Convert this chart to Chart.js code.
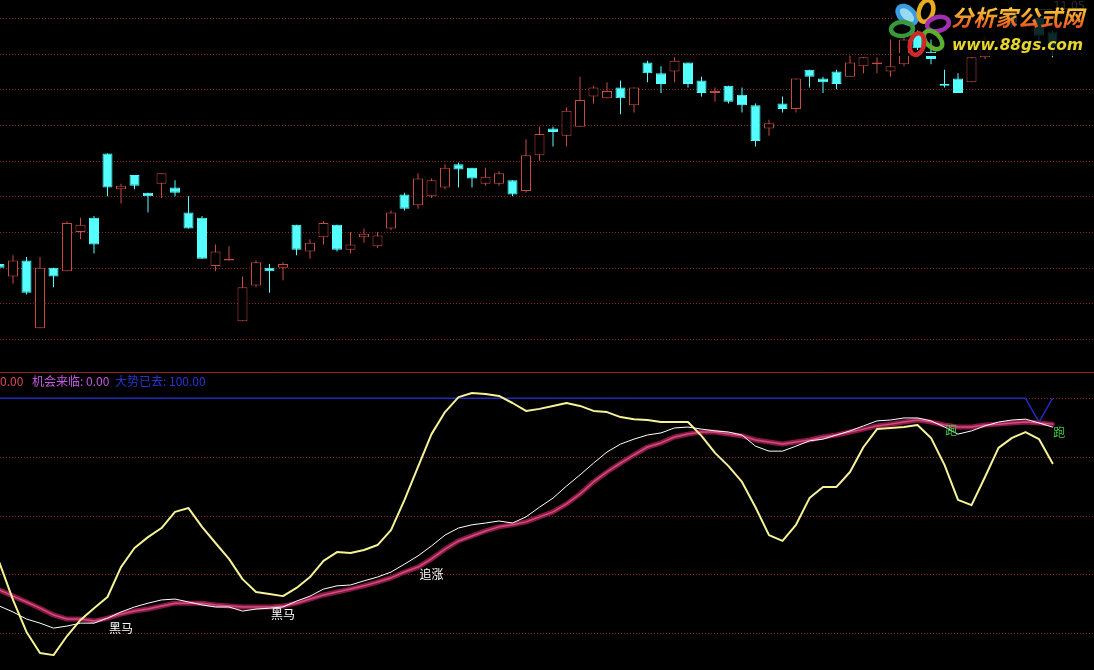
<!DOCTYPE html>
<html>
<head>
<meta charset="utf-8">
<script src="https://cdn.jsdelivr.net/npm/chart.js@4.4.1/dist/chart.umd.min.js"></script>
<style>
  html, body { margin:0; padding:0; background:#000; overflow:hidden; }
  #stage { position:relative; width:1094px; height:670px; background:#000; }
  canvas { position:absolute; left:0; display:block; }
  #kline { top:0; }
  #ind { top:372px; }
</style>
</head>
<body>
<div id="stage">
  <canvas id="kline" width="1094" height="372"></canvas>
  <canvas id="ind" width="1094" height="298"></canvas>
</div>
<script>
// ---------- data ----------
const sessions = [0,1,2,3,4,5,6,7,8,9,10,11,12,13,14,15,16,17,18,19,
  20,21,22,23,24,25,26,27,28,29,30,31,32,33,34,35,36,37,38,39,
  40,41,42,43,44,45,46,47,48,49,50,51,52,53,54,55,56,57,58,59,
  60,61,62,63,64,65,66,67,68,69,70,71,72,73,74,75,76,77,78];

const openP = [9.62,9.55,9.64,9.26,9.60,9.58,9.80,9.88,10.24,10.04,
  10.12,10.02,10.07,10.05,9.91,9.88,9.61,9.64,9.30,9.50,
  9.60,9.60,9.84,9.69,9.77,9.84,9.70,9.77,9.72,9.82,
  10.01,9.95,10.00,10.05,10.18,10.16,10.07,10.07,10.09,10.03,
  10.23,10.38,10.34,10.39,10.56,10.55,10.61,10.51,10.75,10.69,
  10.70,10.75,10.65,10.58,10.62,10.57,10.51,10.38,10.52,10.49,
  10.71,10.66,10.70,10.67,10.73,10.74,10.70,10.74,10.92,10.81,
  10.63,10.66,10.64,10.78,10.87,11.02,10.95,11.00,10.92];
const highP = [9.67,9.67,9.66,9.66,9.60,9.86,9.88,9.89,10.24,10.07,
  10.12,10.02,10.13,10.09,10.00,9.89,9.73,9.72,9.55,9.64,
  9.62,9.63,9.84,9.76,9.86,9.84,9.80,9.82,9.80,9.92,
  10.02,10.13,10.10,10.18,10.19,10.16,10.16,10.14,10.09,10.32,
  10.39,10.39,10.50,10.67,10.62,10.64,10.65,10.61,10.76,10.73,
  10.78,10.75,10.67,10.61,10.62,10.61,10.52,10.43,10.56,10.66,
  10.71,10.67,10.71,10.79,10.78,10.78,10.88,10.90,10.93,10.88,
  10.71,10.69,10.78,10.90,11.00,11.04,11.03,11.05,10.93];
const lowP = [9.56,9.51,9.45,9.26,9.49,9.58,9.76,9.68,10.00,9.96,
  10.04,9.91,9.99,10.00,9.82,9.65,9.58,9.64,9.30,9.49,
  9.46,9.53,9.67,9.65,9.73,9.69,9.68,9.74,9.71,9.81,
  9.92,9.93,9.99,10.04,10.05,10.05,10.06,10.06,10.00,10.02,
  10.20,10.28,10.28,10.39,10.52,10.55,10.46,10.47,10.64,10.58,
  10.64,10.61,10.56,10.53,10.52,10.47,10.28,10.34,10.47,10.47,
  10.61,10.58,10.60,10.67,10.69,10.69,10.67,10.73,10.82,10.74,
  10.61,10.58,10.64,10.77,10.85,10.94,10.93,10.87,10.78];
const closeP = [9.60,9.64,9.46,9.60,9.55,9.85,9.84,9.73,10.05,10.06,
  10.06,10.00,10.13,10.02,9.82,9.65,9.69,9.65,9.49,9.63,
  9.58,9.62,9.70,9.74,9.85,9.70,9.73,9.79,9.78,9.91,
  9.93,10.10,10.09,10.16,10.15,10.10,10.11,10.13,10.01,10.23,
  10.35,10.36,10.48,10.54,10.61,10.59,10.55,10.61,10.69,10.63,
  10.76,10.63,10.58,10.59,10.53,10.51,10.31,10.41,10.49,10.66,
  10.67,10.64,10.63,10.75,10.78,10.75,10.73,10.88,10.83,10.77,
  10.62,10.58,10.78,10.88,10.98,10.96,11.01,10.90,10.84];
const priceGrid = [9.2, 9.4, 9.6, 9.8, 10.0, 10.2, 10.4, 10.6, 10.8, 11.0];

// indicator panel
const fastLine = [43.9,31.3,20.4,13.2,12.5,19.0,24.5,28.5,32.3,42.5,
  49.0,52.7,55.8,61.3,62.6,56.2,50.7,45.3,38.4,34.0,
  33.3,32.6,35.4,39.1,44.6,47.6,47.3,48.3,50.0,55.1,
  65.4,76.6,87.8,95.3,100.4,101.8,101.5,100.8,98.4,95.7,
  96.4,97.4,98.4,97.4,95.7,95.3,93.6,92.9,92.6,91.9,
  91.9,91.9,87.2,81.4,76.9,71.5,62.9,53.4,51.4,56.9,
  66.0,69.8,69.8,74.9,83.4,89.5,89.9,90.2,90.9,86.5,
  77.3,65.4,63.6,73.2,83.1,86.5,88.5,86.1,77.9];
const midLine = [29.2,27.2,24.8,23.4,21.7,22.4,23.4,23.4,25.1,27.2,
  28.9,30.2,31.3,31.6,30.6,29.6,28.9,28.9,27.5,28.2,
  28.5,28.9,30.9,32.6,35.0,36.1,36.4,37.8,39.1,40.8,
  43.5,46.3,49.7,53.4,55.8,56.9,57.5,58.2,57.5,59.6,
  62.9,66.0,70.1,73.9,77.9,81.7,84.4,86.1,87.5,88.2,
  89.9,90.2,89.5,88.9,88.5,87.5,83.7,82.0,82.0,83.7,
  85.5,86.1,87.5,88.9,90.6,92.3,92.6,93.3,93.3,92.3,
  90.2,87.8,88.9,90.6,91.9,92.6,92.9,91.6,90.2];
const slowLine = [34.7,32.6,30.6,28.5,26.2,24.8,24.8,24.1,25.1,26.5,
  27.5,28.2,29.2,30.2,30.2,30.2,29.6,29.2,28.9,28.9,
  28.9,29.2,30.2,31.6,33.0,34.0,35.0,36.1,37.4,38.8,
  40.8,42.5,45.3,48.6,51.4,53.1,54.8,56.2,56.9,57.9,
  59.6,61.3,64.0,67.4,71.5,74.9,77.9,80.7,83.4,84.8,
  86.8,87.8,88.5,88.5,87.8,87.2,85.8,85.1,84.4,85.1,
  85.8,86.8,87.5,88.5,89.5,90.6,91.2,91.9,92.6,91.9,
  90.9,90.2,90.2,90.9,91.2,91.6,91.9,91.6,91.2];
const trendGone = [100,100,100,100,100,100,100,100,100,100,
  100,100,100,100,100,100,100,100,100,100,
  100,100,100,100,100,100,100,100,100,100,
  100,100,100,100,100,100,100,100,100,100,
  100,100,100,100,100,100,100,100,100,100,
  100,100,100,100,100,100,100,100,100,100,
  100,100,100,100,100,100,100,100,100,100,
  100,100,100,100,100,100,100,91.9,100];
const chanceValue = [0];
const firstValue = [0];
const indGrid = [20, 40, 60, 80, 100];

const signalPos = [9, 21, 32, 70.5, 78.5];
const signalVal = [21.7, 26.5, 40.1, 88.9, 88.2];
const signalText = ['黑马', '黑马', '追涨', '跑', '跑'];

// ---------- styles ----------
const RED = 'rgb(200,72,66)';
const CYAN = 'rgb(84,255,255)';
const GRID = 'rgb(135,40,36)';
const X_MIN = 0.037, X_MAX = 81.074;
const CJK = '"Noto Sans CJK SC", "Noto Sans", sans-serif';
const isUp = sessions.map(i => closeP[i] >= openP[i]);

function dottedRows(ctx, area, ys, values, color) {
  ctx.save();
  ctx.strokeStyle = color;
  ctx.lineWidth = 1;
  ctx.setLineDash([1, 2]);
  values.forEach(v => {
    const y = Math.round(ys.getPixelForValue(v)) + 0.5;
    ctx.beginPath(); ctx.moveTo(area.left, y); ctx.lineTo(area.right, y); ctx.stroke();
  });
  ctx.restore();
}

const priceGridPlugin = {
  id: 'priceGrid',
  beforeDatasetsDraw(chart) {
    dottedRows(chart.ctx, chart.chartArea, chart.scales.y, priceGrid, GRID);
  }
};

const logoPlugin = {
  id: 'logo',
  afterDraw(chart) {
    const ctx = chart.ctx, xs = chart.scales.x, ys = chart.scales.y;
    // highest price mark
    const hi = Math.max(...highP);
    const hiIdx = highP.indexOf(hi);
    const hx = Math.round(xs.getPixelForValue(hiIdx)) + 0.5;
    const hy = Math.round(ys.getPixelForValue(hi)) + 0.5;
    ctx.save();
    ctx.strokeStyle = '#ffffff'; ctx.lineWidth = 1;
    ctx.beginPath(); ctx.moveTo(hx, hy); ctx.lineTo(hx + 13, hy); ctx.stroke();
    ctx.fillStyle = '#ffffff';
    ctx.font = '11px "DejaVu Sans", sans-serif';
    ctx.textBaseline = 'middle';
    ctx.fillText(hi.toFixed(2), hx + 14, hy - 3);
    // dark plate of the watermark
    ctx.fillStyle = 'rgba(0,0,0,0.84)';
    ctx.fillRect(946, 0, 148, 56);
    ctx.fillStyle = '#000';
    priceGrid.forEach(v => {
      const y = Math.round(ys.getPixelForValue(v));
      if (y < 56) ctx.fillRect(893, y - 1, 53, 3);
    });

    // flower
    const cx = 921, cy = 28;
    const petals = [
      [907, 15, '#3a9be0', 'rgba(160,230,255,0.95)'],
      [926, 11, '#e8ac20', 'rgba(0,0,0,0)'],
      [938, 24, '#9e30b0', 'rgba(0,0,0,0)'],
      [933, 40, '#5ab02e', 'rgba(0,0,0,0)'],
      [917, 44, '#d02828', 'rgba(0,0,0,0)'],
      [902, 29, '#38983c', 'rgba(0,0,0,0)']
    ];
    petals.forEach(p => {
      const ang = Math.atan2(p[1] - cy, p[0] - cx) + Math.PI / 2;
      ctx.save();
      ctx.translate(p[0], p[1]); ctx.rotate(ang);
      ctx.beginPath(); ctx.ellipse(0, 0, 7, 11, 0, 0, Math.PI * 2);
      ctx.fillStyle = p[3]; ctx.fill();
      ctx.lineWidth = 4.5; ctx.strokeStyle = p[2]; ctx.stroke();
      ctx.restore();
    });

    // site name
    ctx.textBaseline = 'alphabetic';
    ctx.font = 'italic bold 22px ' + CJK;
    const t1 = '分析家公式网';
    const w1 = ctx.measureText(t1).width;
    ctx.save();
    ctx.translate(951, 26); ctx.scale(133 / w1, 1);
    const g = ctx.createLinearGradient(0, -19, 0, 2);
    g.addColorStop(0, '#ffd23c'); g.addColorStop(1, '#e4501c');
    ctx.fillStyle = g; ctx.fillText(t1, 0, 0);
    ctx.restore();

    ctx.font = 'italic bold 15px "DejaVu Sans", sans-serif';
    const t2 = 'www.88gs.com';
    const w2 = ctx.measureText(t2).width;
    ctx.save();
    ctx.translate(952, 50); ctx.scale(131 / w2, 1);
    ctx.fillStyle = '#e6d52c'; ctx.fillText(t2, 0, 0);
    ctx.restore();
    ctx.restore();
  }
};

new Chart(document.getElementById('kline'), {
  type: 'bar',
  data: {
    labels: sessions,
    datasets: [
      {
        label: 'body',
        data: sessions.map(i => [Math.min(openP[i], closeP[i]), Math.max(openP[i], closeP[i])]),
        backgroundColor: sessions.map(i => isUp[i] ? '#000000' : CYAN),
        borderColor: sessions.map(i => isUp[i] ? RED : CYAN),
        borderWidth: 1, borderSkipped: false, barThickness: 10, minBarLength: 1,
        grouped: false, inflateAmount: 0, order: 1
      },
      {
        label: 'wick',
        data: sessions.map(i => [lowP[i], highP[i]]),
        backgroundColor: sessions.map(i => isUp[i] ? RED : CYAN),
        borderWidth: 0, barThickness: 1, minBarLength: 1,
        grouped: false, inflateAmount: 0, order: 2
      }
    ]
  },
  options: {
    responsive: false, animation: false, devicePixelRatio: 1, events: [],
    layout: { padding: 0 },
    plugins: { legend: { display: false }, tooltip: { enabled: false } },
    scales: {
      x: { type: 'linear', min: X_MIN, max: X_MAX, offset: false, display: false },
      y: { type: 'linear', min: 9.015, max: 11.1008, display: false }
    }
  },
  plugins: [priceGridPlugin, logoPlugin]
});

const indDecor = {
  id: 'indDecor',
  beforeDatasetsDraw(chart) {
    const ctx = chart.ctx;
    dottedRows(ctx, chart.chartArea, chart.scales.y, indGrid, GRID);
    ctx.save();
    ctx.strokeStyle = 'rgb(150,32,32)'; ctx.lineWidth = 1;
    ctx.beginPath(); ctx.moveTo(0, 0.5); ctx.lineTo(1094, 0.5); ctx.stroke();
    ctx.restore();
  },
  afterDatasetsDraw(chart) {
    const ctx = chart.ctx, xs = chart.scales.x, ys = chart.scales.y;
    ctx.save();
    ctx.font = '12px ' + CJK;
    ctx.textBaseline = 'middle';
    ctx.textAlign = 'left';
    ctx.fillStyle = 'rgb(225,70,95)';
    ctx.fillText(firstValue[0].toFixed(2), 0, 9);
    ctx.fillStyle = 'rgb(196,88,226)';
    ctx.fillText('机会来临: ' + chanceValue[0].toFixed(2), 32, 9);
    ctx.fillStyle = 'rgb(38,52,212)';
    ctx.fillText('大势已去: ' + trendGone[trendGone.length - 1].toFixed(2), 115, 9);

    ctx.textAlign = 'center';
    signalPos.forEach((p, k) => {
      const x = xs.getPixelForValue(p), y = ys.getPixelForValue(signalVal[k]);
      ctx.fillStyle = signalText[k] === '跑' ? 'rgb(70,200,70)' : '#ffffff';
      ctx.fillText(signalText[k], x, y);
    });
    ctx.restore();
  }
};

new Chart(document.getElementById('ind'), {
  type: 'line',
  data: {
    labels: sessions,
    datasets: [
      { label: 'fast', data: fastLine, borderColor: 'rgb(246,242,150)', borderWidth: 2, order: 1 },
      { label: 'mid', data: midLine, borderColor: '#ffffff', borderWidth: 1, order: 2 },
      { label: 'slowCore', data: slowLine, borderColor: 'rgb(205,78,128)', borderWidth: 1.5, order: 3 },
      { label: 'slow', data: slowLine, borderColor: 'rgb(140,24,68)', borderWidth: 5, order: 4 },
      { label: '大势已去', data: trendGone, borderColor: 'rgb(36,42,188)', borderWidth: 1.5, order: 5 }
    ]
  },
  options: {
    responsive: false, animation: false, devicePixelRatio: 1, events: [],
    layout: { padding: 0 },
    elements: {
      point: { radius: 0 },
      line: { tension: 0, borderJoinStyle: 'round', borderCapStyle: 'round', fill: false }
    },
    plugins: { legend: { display: false }, tooltip: { enabled: false } },
    scales: {
      x: { type: 'linear', min: X_MIN, max: X_MAX, offset: false, display: false },
      y: { type: 'linear', min: 7.43, max: 108.96, display: false }
    }
  },
  plugins: [indDecor]
});
</script>
</body>
</html>
